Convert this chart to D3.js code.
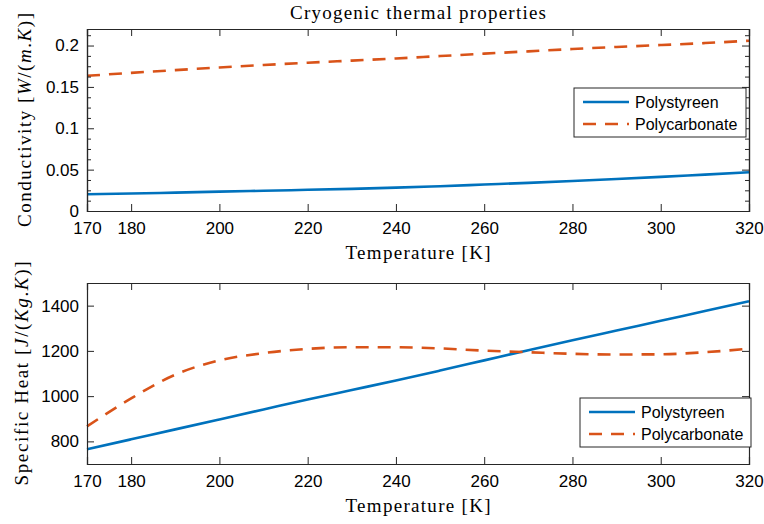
<!DOCTYPE html>
<html>
<head>
<meta charset="utf-8">
<script src="https://cdn.jsdelivr.net/npm/d3@7"></script>
<style>
  body { margin: 0; background: #fff; }
  svg { display: block; }
</style>
</head>
<body>
<script>
// temperatures [K]
var temps = [170, 180, 190, 200, 210, 220, 230, 240, 250, 260, 270, 280, 290, 300, 310, 320];

// conductivity W/(m.K)
var condPS = [0.0202, 0.0211, 0.0222, 0.0234, 0.0245, 0.0256, 0.0268, 0.0282, 0.0300, 0.0320, 0.0340, 0.0362, 0.0386, 0.0412, 0.0440, 0.0468];
var condPC = [0.1634, 0.1670, 0.1703, 0.1735, 0.1765, 0.1792, 0.1818, 0.1844, 0.1873, 0.1902, 0.1930, 0.1958, 0.1983, 0.2006, 0.2030, 0.2058];

// specific heat J/(Kg.K)
var heatPS = [765, 809, 853, 897, 941, 985, 1027, 1069, 1113, 1158, 1203, 1247, 1290, 1333, 1376, 1419];
var heatPC = [866, 990, 1095, 1158, 1190, 1209, 1216, 1216, 1211, 1201, 1194, 1187, 1184, 1185, 1194, 1210];

var xTicks = [170, 180, 200, 220, 240, 260, 280, 300, 320];
var condTicks = [0, 0.05, 0.1, 0.15, 0.2];
var heatTicks = [800, 1000, 1200, 1400];
var seriesNames = ["Polystyreen", "Polycarbonate"];

var width = 764, height = 524;
var blue = "#0072BD", orange = "#D95319", axisCol = "#262626";
var sans = "'Liberation Sans', Arial, sans-serif";
var serif = "'Liberation Serif', 'DejaVu Serif', serif";

var svg = d3.select("body").append("svg")
    .attr("width", width)
    .attr("height", height);

// one panel = frame + axes + two lines + legend
function drawPanel(opt) {
    var x = d3.scaleLinear().domain([170, 320]).range([87, 749]);
    var y = d3.scaleLinear().domain(opt.yDomain).range([opt.bottom, opt.top]);
    var g = svg.append("g");

    // lines
    var line = function(vals) {
        return d3.line()
            .x(function(d, i) { return x(temps[i]); })
            .y(function(d) { return y(d); })
            .curve(d3.curveMonotoneX)(vals);
    };
    g.append("path").attr("d", line(opt.ps))
        .attr("fill", "none").attr("stroke", blue).attr("stroke-width", 2.6);
    g.append("path").attr("d", line(opt.pc))
        .attr("fill", "none").attr("stroke", orange).attr("stroke-width", 2.6)
        .attr("stroke-dasharray", "13,9");

    // axes (left/bottom labelled, top/right mirrored ticks)
    var xb = g.append("g").attr("transform", "translate(0," + opt.bottom + ")")
        .call(d3.axisBottom(x).tickValues(xTicks).tickSize(-7).tickPadding(11).tickFormat(d3.format("d")));
    g.append("g").attr("transform", "translate(0," + opt.top + ")")
        .call(d3.axisTop(x).tickValues(xTicks).tickSize(-7).tickFormat(""));
    g.append("g").attr("transform", "translate(87,0)")
        .call(d3.axisLeft(y).tickValues(opt.yTicks).tickSize(-7).tickPadding(8).tickFormat(opt.fmt));
    g.append("g").attr("transform", "translate(749,0)")
        .call(d3.axisRight(y).tickValues(opt.yTicks).tickSize(-7).tickFormat(""));

    if (opt.minor) {
        g.append("g").attr("transform", "translate(87,0)")
            .call(d3.axisLeft(y).tickValues(opt.minor).tickSize(-4).tickFormat(""));
        g.append("g").attr("transform", "translate(749,0)")
            .call(d3.axisRight(y).tickValues(opt.minor).tickSize(-4).tickFormat(""));
    }

    g.selectAll(".domain").attr("stroke", axisCol).attr("stroke-width", 1.2);
    g.selectAll(".tick line").attr("stroke", axisCol).attr("stroke-width", 1);
    g.selectAll(".tick text").attr("fill", "#000")
        .style("font-family", sans).style("font-size", "17px");
    xb.selectAll(".tick text").attr("dy", "0.71em");

    // x label
    g.append("text")
        .attr("x", 418).attr("y", opt.bottom + 48)
        .attr("text-anchor", "middle")
        .attr("textLength", 145).attr("lengthAdjust", "spacing")
        .style("font-family", serif).style("font-size", "19px")
        .text("Temperature [K]");

    // y label with italic parts
    var yt = g.append("text")
        .attr("transform", "translate(" + opt.yLabelX + "," + ((opt.top + opt.bottom) / 2) + ") rotate(-90)")
        .attr("text-anchor", "middle")
        .attr("textLength", opt.yLabelLen).attr("lengthAdjust", "spacing")
        .style("font-family", serif).style("font-size", "19px");
    opt.yLabel.forEach(function(p) {
        yt.append("tspan").style("font-style", p[1] ? "italic" : "normal").text(p[0]);
    });

    // legend
    var lg = g.append("g").attr("transform", "translate(" + opt.legend[0] + "," + opt.legend[1] + ")");
    lg.append("rect").attr("width", opt.legend[2]).attr("height", 49)
        .attr("fill", "#fff").attr("stroke", axisCol).attr("stroke-width", 1);
    seriesNames.forEach(function(name, i) {
        var yy = 14 + i * 22;
        lg.append("line").attr("x1", 9).attr("x2", 55).attr("y1", yy).attr("y2", yy)
            .attr("stroke", i ? orange : blue).attr("stroke-width", 2.6)
            .attr("stroke-dasharray", i ? "13,9" : null);
        lg.append("text").attr("x", 61).attr("y", yy).attr("dy", "0.35em")
            .style("font-family", sans).style("font-size", "16px")
            .text(name);
    });
}

var condMinor = d3.range(0, 0.2201, 0.0125).filter(function(v) {
    return Math.abs(v / 0.05 - Math.round(v / 0.05)) > 1e-6;
});

drawPanel({
    top: 29, bottom: 211,
    yDomain: [0, 0.22],
    yTicks: condTicks,
    minor: condMinor,
    fmt: function(d) { return d === 0 ? "0" : String(+d.toFixed(2)); },
    ps: condPS, pc: condPC,
    yLabelX: 31, yLabelLen: 214,
    yLabel: [["Conductivity [", 0], ["W", 1], ["/(", 0], ["m", 1], [".", 0], ["K", 1], [")]", 0]],
    legend: [574, 88, 172]
});

drawPanel({
    top: 283, bottom: 464,
    yDomain: [700, 1500],
    yTicks: heatTicks,
    minor: null,
    fmt: d3.format("d"),
    ps: heatPS, pc: heatPC,
    yLabelX: 28, yLabelLen: 224,
    yLabel: [["Specific Heat [", 0], ["J", 1], ["/(", 0], ["Kg", 1], [".", 0], ["K", 1], [")]", 0]],
    legend: [580, 398, 171]
});

// title
svg.append("text")
    .attr("x", 418).attr("y", 19)
    .attr("text-anchor", "middle")
    .attr("textLength", 256).attr("lengthAdjust", "spacing")
    .style("font-family", serif).style("font-size", "19px")
    .text("Cryogenic thermal properties");
</script>
</body>
</html>
